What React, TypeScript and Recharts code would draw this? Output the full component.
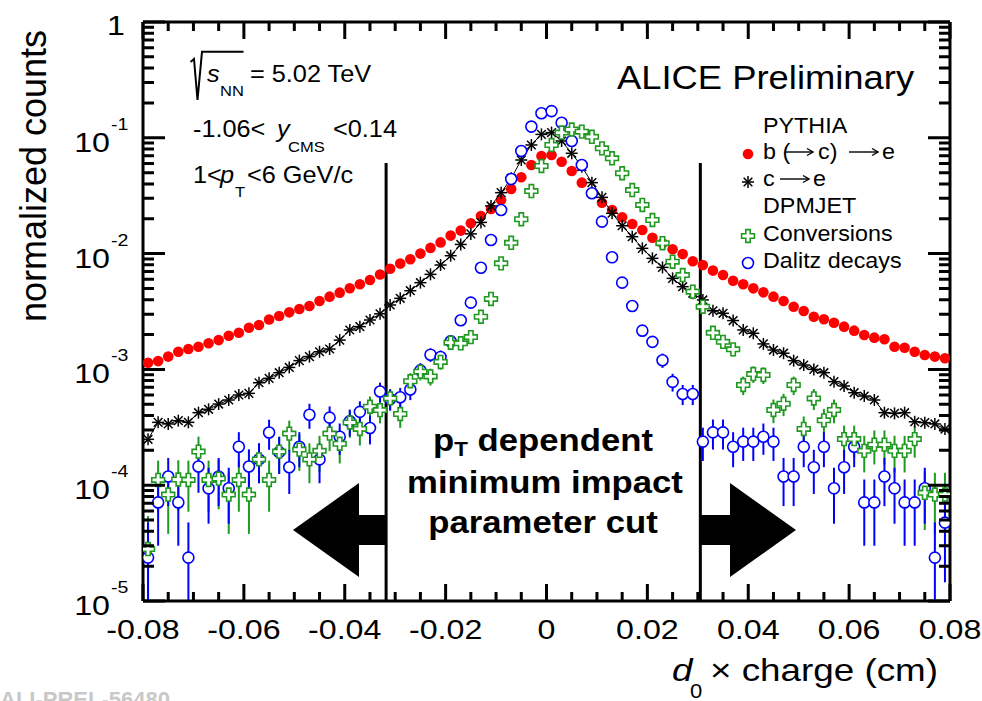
import React from 'react';
import { ComposedChart, Scatter, XAxis, YAxis, ErrorBar, ReferenceLine } from 'recharts';

const FONT = '"Liberation Sans", Arial, Helvetica, sans-serif';
const RED = '#ff0000';
const GREEN = '#1f991f';
const BLUE = '#0000ff';

// bin centres, d0 x charge (cm)
const binCenters = [
  -0.079, -0.077, -0.075, -0.073, -0.071, -0.069, -0.067, -0.065, -0.063, -0.061,
  -0.059, -0.057, -0.055, -0.053, -0.051, -0.049, -0.047, -0.045, -0.043, -0.041,
  -0.039, -0.037, -0.035, -0.033, -0.031, -0.029, -0.027, -0.025, -0.023, -0.021,
  -0.019, -0.017, -0.015, -0.013, -0.011, -0.009, -0.007, -0.005, -0.003, -0.001,
  0.001, 0.003, 0.005, 0.007, 0.009, 0.011, 0.013, 0.015, 0.017, 0.019,
  0.021, 0.023, 0.025, 0.027, 0.029, 0.031, 0.033, 0.035, 0.037, 0.039,
  0.041, 0.043, 0.045, 0.047, 0.049, 0.051, 0.053, 0.055, 0.057, 0.059,
  0.061, 0.063, 0.065, 0.067, 0.069, 0.071, 0.073, 0.075, 0.077, 0.079,
];

// PYTHIA b (-> c) -> e
const bToCToE = [
  1.14e-3, 1.18e-3, 1.29e-3, 1.42e-3, 1.5e-3, 1.57e-3, 1.68e-3, 1.79e-3, 1.95e-3, 2.07e-3,
  2.29e-3, 2.42e-3, 2.7e-3, 2.89e-3, 3.11e-3, 3.32e-3, 3.53e-3, 3.9e-3, 4.25e-3, 4.6e-3,
  5.02e-3, 5.43e-3, 5.92e-3, 6.6e-3, 7.4e-3, 8.2e-3, 8.95e-3, 1.0e-2, 1.12e-2, 1.25e-2,
  1.43e-2, 1.58e-2, 1.83e-2, 2.11e-2, 2.43e-2, 2.9e-2, 3.61e-2, 4.56e-2, 5.82e-2, 6.96e-2,
  7.1e-2, 6.22e-2, 5.17e-2, 4.1e-2, 3.32e-2, 2.75e-2, 2.38e-2, 2.06e-2, 1.8e-2, 1.6e-2,
  1.37e-2, 1.23e-2, 1.09e-2, 9.9e-3, 8.6e-3, 7.97e-3, 7.13e-3, 6.53e-3, 5.83e-3, 5.43e-3,
  5.01e-3, 4.63e-3, 4.25e-3, 3.9e-3, 3.48e-3, 3.19e-3, 2.85e-3, 2.71e-3, 2.53e-3, 2.34e-3,
  2.16e-3, 1.98e-3, 1.88e-3, 1.82e-3, 1.57e-3, 1.54e-3, 1.42e-3, 1.33e-3, 1.29e-3, 1.25e-3,
];

// PYTHIA c -> e
const cToE = [
  2.49e-4, 3.49e-4, 3.38e-4, 3.61e-4, 3.49e-4, 4.23e-4, 4.52e-4, 5.02e-4, 5.44e-4, 6.01e-4,
  6.21e-4, 7.67e-4, 8.37e-4, 9.37e-4, 1.04e-3, 1.19e-3, 1.29e-3, 1.42e-3, 1.5e-3, 1.79e-3,
  2.19e-3, 2.34e-3, 2.67e-3, 3.02e-3, 3.6e-3, 4.11e-3, 4.78e-3, 5.61e-3, 6.62e-3, 7.97e-3,
  9.59e-3, 1.2e-2, 1.48e-2, 1.86e-2, 2.58e-2, 3.36e-2, 4.47e-2, 6.43e-2, 8.67e-2, 1.07e-1,
  1.11e-1, 9.38e-2, 7.35e-2, 5.63e-2, 4.1e-2, 3.06e-2, 2.23e-2, 1.74e-2, 1.4e-2, 1.11e-2,
  9.1e-3, 7.6e-3, 6.11e-3, 5.18e-3, 4.54e-3, 3.98e-3, 3.21e-3, 3.05e-3, 2.64e-3, 2.19e-3,
  2.05e-3, 1.66e-3, 1.47e-3, 1.38e-3, 1.19e-3, 1.09e-3, 1.0e-3, 9.37e-4, 7.84e-4, 7.19e-4,
  6.29e-4, 5.89e-4, 5.44e-4, 4.23e-4, 4.17e-4, 4.23e-4, 3.53e-4, 3.47e-4, 3.38e-4, 3.05e-4,
];

// DPMJET conversions
const conversions = [
  2.81e-5, 1.11e-4, 8.3e-5, 1.12e-4, 1.11e-4, 1.95e-4, 1.11e-4, 1.14e-4, 8.3e-5, 1.11e-4,
  8.3e-5, 1.67e-4, 1.11e-4, 1.95e-4, 2.79e-4, 2.03e-4, 1.67e-4, 1.98e-4, 2.79e-4, 2.28e-4,
  3.48e-4, 3.06e-4, 4.76e-4, 4.45e-4, 5.62e-4, 4.12e-4, 7.9e-4, 9.55e-4, 8.7e-4, 1.16e-3,
  1.7e-3, 1.68e-3, 1.9e-3, 2.85e-3, 4.06e-3, 8.24e-3, 1.24e-2, 1.98e-2, 3.47e-2, 5.71e-2,
  8.67e-2, 1.11e-1, 1.18e-1, 1.13e-1, 1.02e-1, 8.11e-2, 6.65e-2, 4.94e-2, 3.54e-2, 2.63e-2,
  1.95e-2, 1.23e-2, 8.51e-3, 6.53e-3, 4.69e-3, 3.48e-3, 2.07e-3, 1.73e-3, 1.49e-3, 7.33e-4,
  9.12e-4, 8.95e-4, 4.46e-4, 5.05e-4, 7.33e-4, 3.06e-4, 5.61e-4, 3.63e-4, 4.46e-4, 2.5e-4,
  2.5e-4, 1.98e-4, 2.24e-4, 2.24e-4, 1.98e-4, 1.98e-4, 2.5e-4, 8.6e-5, 8.3e-5, 8.3e-5,
];
const conversionsErr = [
  2.6e-5, 5.2e-5, 4.5e-5, 5.2e-5, 5.2e-5, 6.8e-5, 5.2e-5, 5.2e-5, 4.5e-5, 5.2e-5,
  4.5e-5, 6.3e-5, 5.2e-5, 6.8e-5, 8.2e-5, 7.0e-5, 6.3e-5, 6.9e-5, 8.2e-5, 7.4e-5,
  9.1e-5, 8.6e-5, 1.07e-4, 1.03e-4, 1.16e-4, 9.9e-5, 1.38e-4, 1.51e-4, 1.45e-4, 1.67e-4,
  2.0e-4, 2.0e-4, 2.1e-4, 2.6e-4, 3.1e-4, 4.4e-4, 5.5e-4, 6.9e-4, 9.1e-4, 1.17e-3,
  1.44e-3, 1.63e-3, 1.68e-3, 1.65e-3, 1.56e-3, 1.4e-3, 1.26e-3, 1.09e-3, 9.2e-4, 7.9e-4,
  6.8e-4, 5.4e-4, 4.5e-4, 4.0e-4, 3.4e-4, 2.9e-4, 2.2e-4, 2.0e-4, 1.9e-4, 1.33e-4,
  1.48e-4, 1.47e-4, 1.03e-4, 1.1e-4, 1.33e-4, 8.6e-5, 1.16e-4, 9.3e-5, 1.03e-4, 7.7e-5,
  7.7e-5, 6.9e-5, 7.3e-5, 7.3e-5, 6.9e-5, 6.9e-5, 7.7e-5, 4.5e-5, 4.5e-5, 4.5e-5,
];

// DPMJET Dalitz decays
const dalitz = [
  2.37e-5, 7.1e-5, 1.19e-4, 7.1e-5, 2.37e-5, 1.45e-4, 9.4e-5, 1.19e-4, 9.4e-5, 2.15e-4,
  1.45e-4, 1.67e-4, 2.85e-4, 1.93e-4, 1.43e-4, 2.15e-4, 4.06e-4, 1.67e-4, 3.83e-4, 2.62e-4,
  3.57e-4, 4.3e-4, 3.12e-4, 6.45e-4, 5.55e-4, 5.75e-4, 6.7e-4, 9.8e-4, 1.34e-3, 1.28e-3,
  1.75e-3, 2.66e-3, 3.77e-3, 7.55e-3, 1.31e-2, 2.38e-2, 4.41e-2, 7.69e-2, 1.25e-1, 1.63e-1,
  1.7e-1, 1.35e-1, 9.38e-2, 5.82e-2, 3.32e-2, 1.89e-2, 9.29e-3, 5.61e-3, 3.53e-3, 2.16e-3,
  1.73e-3, 1.2e-3, 7.8e-4, 6.13e-4, 6.13e-4, 2.38e-4, 2.86e-4, 2.86e-4, 2.15e-4, 2.38e-4,
  2.38e-4, 2.62e-4, 2.38e-4, 1.19e-4, 1.19e-4, 2.15e-4, 1.43e-4, 2.15e-4, 9.4e-5, 1.43e-4,
  2.15e-4, 7.1e-5, 7.1e-5, 1.19e-4, 9.4e-5, 7.1e-5, 7.1e-5, 9.4e-5, 2.37e-5, 4.75e-5,
];
const dalitzErr = [
  2.4e-5, 4.1e-5, 5.3e-5, 4.1e-5, 2.4e-5, 5.9e-5, 4.75e-5, 5.3e-5, 4.75e-5, 7.2e-5,
  5.9e-5, 6.3e-5, 8.3e-5, 6.8e-5, 5.9e-5, 7.2e-5, 9.9e-5, 6.3e-5, 9.6e-5, 7.9e-5,
  9.3e-5, 1.0e-4, 8.7e-5, 1.24e-4, 1.15e-4, 1.17e-4, 1.27e-4, 1.53e-4, 1.79e-4, 1.75e-4,
  2.05e-4, 2.5e-4, 3.0e-4, 4.3e-4, 5.6e-4, 7.6e-4, 1.0e-3, 1.36e-3, 1.7e-3, 2.0e-3,
  2.0e-3, 1.8e-3, 1.5e-3, 1.2e-3, 8.9e-4, 6.7e-4, 4.7e-4, 3.7e-4, 2.9e-4, 2.3e-4,
  2.0e-4, 1.7e-4, 1.37e-4, 1.21e-4, 1.21e-4, 7.6e-5, 8.3e-5, 8.3e-5, 7.2e-5, 7.6e-5,
  7.6e-5, 7.9e-5, 7.6e-5, 5.3e-5, 5.3e-5, 7.2e-5, 5.9e-5, 7.2e-5, 4.75e-5, 5.9e-5,
  7.2e-5, 4.1e-5, 4.1e-5, 5.3e-5, 4.75e-5, 4.1e-5, 4.1e-5, 4.75e-5, 2.4e-5, 3.3e-5,
];

const xMajorTicks = [-0.08, -0.06, -0.04, -0.02, 0, 0.02, 0.04, 0.06, 0.08];
const xMinorTicks = [
  -0.075, -0.07, -0.065, -0.055, -0.05, -0.045, -0.035, -0.03, -0.025, -0.015, -0.01, -0.005,
  0.005, 0.01, 0.015, 0.025, 0.03, 0.035, 0.045, 0.05, 0.055, 0.065, 0.07, 0.075,
];
const yMajorTicks = [1e-5, 1e-4, 1e-3, 1e-2, 1e-1, 1];
const yMinorTicks = [
  2e-5, 3e-5, 4e-5, 5e-5, 6e-5, 7e-5, 8e-5, 9e-5,
  2e-4, 3e-4, 4e-4, 5e-4, 6e-4, 7e-4, 8e-4, 9e-4,
  2e-3, 3e-3, 4e-3, 5e-3, 6e-3, 7e-3, 8e-3, 9e-3,
  2e-2, 3e-2, 4e-2, 5e-2, 6e-2, 7e-2, 8e-2, 9e-2,
  0.2, 0.3, 0.4, 0.5, 0.6, 0.7, 0.8, 0.9,
];

// impact parameter cut lines
const cutPositions = [-0.0318, 0.0305];
const cutTop = 0.0606;

const X_MIN = -0.08;
const X_MAX = 0.08;
const Y_MIN = 1e-5;
const Y_MAX = 1;
const X_DOMAIN: [number, number] = [X_MIN, X_MAX];
const Y_DOMAIN: [number, number] = [Y_MIN, Y_MAX];

// plot frame in page pixels (chart margins below are derived from it)
const FRAME = { left: 143, right: 950, top: 22, bottom: 601 };

const rows = binCenters.map((x, i) => ({
  x,
  red: bToCToE[i],
  black: cToE[i],
  conv: conversions[i],
  convErr: [Math.min(conversionsErr[i], conversions[i] - Y_MIN), conversionsErr[i]],
  dal: dalitz[i],
  dalErr: [Math.min(dalitzErr[i], dalitz[i] - Y_MIN), dalitzErr[i]],
}));

const AXIS = { stroke: '#000', strokeWidth: 3 };
const TW = 3;

const BottomLabel = (p: any) => {
  const v = p.payload.value;
  const label = Math.abs(v) < 1e-12 ? '0' : v.toFixed(2);
  return (
    <text transform={`translate(${p.x},${p.y + 38}) scale(1.15,1)`} textAnchor="middle" fontSize={28} fontFamily={FONT} fill="#000">
      {label}
    </text>
  );
};

const LeftLabel = (p: any) => {
  const n = Math.round(Math.log10(p.payload.value));
  if (n === 0) {
    return (
      <text transform={`translate(${p.x - 18},${p.y + 13}) scale(1.15,1)`} textAnchor="end" fontSize={28} fontFamily={FONT} fill="#000">1</text>
    );
  }
  return (
    <g fill="#000" fontFamily={FONT}>
      <text transform={`translate(${p.x - 33},${p.y + 14}) scale(1.15,1)`} textAnchor="end" fontSize={28}>10</text>
      <text transform={`translate(${p.x - 32},${p.y - 8}) scale(1.15,1)`} fontSize={17}>{n}</text>
    </g>
  );
};

// markers
const Empty = () => <g />;
const RedDot = (p: any) => <circle cx={p.cx} cy={p.cy} r={5.3} fill={RED} />;
const Star = (p: any) => {
  const s = 6;
  const d = s * 0.72;
  return (
    <g stroke="#000" strokeWidth={1.5}>
      <line x1={p.cx - s} y1={p.cy} x2={p.cx + s} y2={p.cy} />
      <line x1={p.cx} y1={p.cy - s} x2={p.cx} y2={p.cy + s} />
      <line x1={p.cx - d} y1={p.cy - d} x2={p.cx + d} y2={p.cy + d} />
      <line x1={p.cx - d} y1={p.cy + d} x2={p.cx + d} y2={p.cy - d} />
    </g>
  );
};
const OpenCross = (p: any) => {
  const s = 6.4;
  const a = 2.2;
  const { cx, cy } = p;
  const pts = [
    [-a, -s], [a, -s], [a, -a], [s, -a], [s, a], [a, a],
    [a, s], [-a, s], [-a, a], [-s, a], [-s, -a], [-a, -a],
  ].map(([dx, dy]) => `${cx + dx},${cy + dy}`).join(' ');
  return <polygon points={pts} fill="#fff" stroke={GREEN} strokeWidth={1.6} />;
};
const OpenCircle = (p: any) => <circle cx={p.cx} cy={p.cy} r={5.5} fill="#fff" stroke={BLUE} strokeWidth={1.6} />;

const Txt = ({ x, y, size, sx = 1.1, children, italic, bold, anchor, fill = '#000' }: any) => (
  <text
    transform={`translate(${x},${y}) scale(${sx},1)`}
    fontSize={size}
    fontStyle={italic ? 'italic' : 'normal'}
    fontWeight={bold ? 'bold' : 'normal'}
    textAnchor={anchor || 'start'}
    fill={fill}
  >
    {children}
  </text>
);

// thin arrow used in the legend labels
const Arrow = ({ x1, x2, y }: any) => (
  <g stroke="#000" strokeWidth={1.4} fill="none">
    <line x1={x1} y1={y} x2={x2} y2={y} />
    <path d={`M${x2 - 6} ${y - 3.5} L${x2} ${y} L${x2 - 6} ${y + 3.5}`} />
  </g>
);

// inward ROOT-style frame ticks along the plot frame, as one path
const fx = (v: number) => FRAME.left + ((v - X_MIN) / (X_MAX - X_MIN)) * (FRAME.right - FRAME.left);
const fy = (v: number) =>
  FRAME.top + (Math.log10(Y_MAX / v) / Math.log10(Y_MAX / Y_MIN)) * (FRAME.bottom - FRAME.top);
const xTickList = [...xMajorTicks.map((t) => [t, 17]), ...xMinorTicks.map((t) => [t, 9])];
const yTickList = [...yMajorTicks.map((t) => [t, 22]), ...yMinorTicks.map((t) => [t, 11])];
const tickPath = [
  ...xTickList.map(([t, len]) => `M${fx(t)} ${FRAME.bottom}V${FRAME.bottom - len}M${fx(t)} ${FRAME.top}V${FRAME.top + len}`),
  ...yTickList.map(([t, len]) => `M${FRAME.left} ${fy(t)}H${FRAME.left + len}M${FRAME.right} ${fy(t)}H${FRAME.right - len}`),
].join('');

const Annotations = () => (
  <svg width={982} height={701} style={{ position: 'absolute', left: 0, top: 0, pointerEvents: 'none' }} fontFamily={FONT}>
    <path d={tickPath} stroke="#000" strokeWidth={TW} fill="none" />

    {/* axis titles */}
    <text transform="translate(46,176) rotate(-90)" textAnchor="middle" fontSize={36} fill="#000">normalized counts</text>
    <Txt x={672} y={681} size={32} sx={1.15} italic>d</Txt>
    <Txt x={690} y={698} size={20} sx={1.1}>0</Txt>
    <Txt x={710} y={681} size={32} sx={1.15}>× charge (cm)</Txt>

    {/* collision info */}
    <path d="M190.5 62 L194 59 L197.5 100 L202 51.7 L243.5 51.7" fill="none" stroke="#000" strokeWidth={2} />
    <Txt x={207} y={82} size={23} italic>s</Txt>
    <Txt x={220} y={96} size={15}>NN</Txt>
    <Txt x={250} y={82} size={23}>= 5.02 TeV</Txt>
    <Txt x={193} y={137} size={23}>-1.06&lt;</Txt>
    <Txt x={277} y={137} size={23} italic>y</Txt>
    <Txt x={288} y={152} size={15}>CMS</Txt>
    <Txt x={333} y={137} size={23}>&lt;0.14</Txt>
    <Txt x={193} y={183} size={23}>1&lt;</Txt>
    <Txt x={220} y={183} size={23} italic>p</Txt>
    <Txt x={235} y={197} size={15}>T</Txt>
    <Txt x={247} y={183} size={23}>&lt;6 GeV/c</Txt>

    <Txt x={617} y={89} size={34} sx={1.07}>ALICE Preliminary</Txt>

    {/* legend */}
    <Txt x={763} y={133} size={22} sx={1.06}>PYTHIA</Txt>
    <RedDot cx={748} cy={154} />
    <Txt x={763} y={159} size={22} sx={1.06}>b (</Txt>
    <Arrow x1={785} x2={813} y={152} />
    <Txt x={818} y={159} size={22} sx={1.06}>c)</Txt>
    <Arrow x1={849} x2={878} y={152} />
    <Txt x={882} y={159} size={22} sx={1.06}>e</Txt>
    <Star cx={748} cy={182} />
    <Txt x={763} y={186} size={22} sx={1.06}>c</Txt>
    <Arrow x1={780} x2={809} y={179} />
    <Txt x={813} y={186} size={22} sx={1.06}>e</Txt>
    <Txt x={763} y={213} size={22} sx={1.06}>DPMJET</Txt>
    <OpenCross cx={748} cy={236} />
    <Txt x={763} y={241} size={22} sx={1.06}>Conversions</Txt>
    <OpenCircle cx={748} cy={263} />
    <Txt x={763} y={268} size={22} sx={1.06}>Dalitz decays</Txt>

    {/* cut annotation */}
    <text transform="translate(543,451) scale(1.12,1)" textAnchor="middle" fontSize={31} fontWeight="bold" fill="#000">
      <tspan>p</tspan>
      <tspan fontSize={20} dy={5}>T</tspan>
      <tspan dy={-5}> dependent</tspan>
    </text>
    <Txt x={545} y={493} size={31} sx={1.12} bold anchor="middle">minimum impact</Txt>
    <Txt x={543} y={533} size={31} sx={1.12} bold anchor="middle">parameter cut</Txt>
    <polygon points="293,530 359,483 359,515 386,515 386,545 359,545 359,577" fill="#000" />
    <polygon points="700,515 730,515 730,483 796,530 730,577 730,545 700,545" fill="#000" />

    <Txt x={0} y={707} size={22} sx={1} bold fill="#c8c8c8">ALI-PREL-56480</Txt>
  </svg>
);

export default function App() {
  return (
    <div style={{ position: 'absolute', left: 0, top: 0, width: 982, height: 701, background: '#fff', fontFamily: FONT }}>
      <ComposedChart
        width={982}
        height={701}
        margin={{ top: FRAME.top - 1, right: 982 - FRAME.right - 1, bottom: 701 - FRAME.bottom - 1, left: FRAME.left - 1 }}
      >
        <XAxis
          xAxisId="b" dataKey="x" type="number" domain={X_DOMAIN} allowDataOverflow
          ticks={xMajorTicks} interval={0} height={1} tickSize={0} tickMargin={0}
          tickLine={false} axisLine={AXIS} tick={BottomLabel}
        />
        <XAxis
          xAxisId="t" orientation="top" dataKey="x" type="number" domain={X_DOMAIN} allowDataOverflow
          ticks={xMajorTicks} height={1} tickLine={false} axisLine={AXIS} tick={false}
        />
        <YAxis
          yAxisId="l" type="number" scale="log" domain={Y_DOMAIN} allowDataOverflow
          ticks={yMajorTicks} interval={0} width={1} tickSize={0} tickMargin={0}
          tickLine={false} axisLine={AXIS} tick={LeftLabel}
        />
        <YAxis
          yAxisId="r" orientation="right" type="number" scale="log" domain={Y_DOMAIN} allowDataOverflow
          ticks={yMajorTicks} width={1} tickLine={false} axisLine={AXIS} tick={false}
        />

        {/* keeps the top / right frame axes tied to the data */}
        <Scatter xAxisId="t" yAxisId="r" data={rows} dataKey="red" shape={Empty} isAnimationActive={false} />

        {cutPositions.map((c) => (
          <ReferenceLine
            key={c} xAxisId="b" yAxisId="l" ifOverflow="visible"
            segment={[{ x: c, y: Y_MIN }, { x: c, y: cutTop }]}
            stroke="#000" strokeWidth={3}
          />
        ))}

        {/* error bars first, markers on top */}
        <Scatter xAxisId="b" yAxisId="l" data={rows} dataKey="conv" shape={Empty} isAnimationActive={false}>
          <ErrorBar dataKey="convErr" direction="y" width={0} stroke={GREEN} strokeWidth={2} isAnimationActive={false} />
        </Scatter>
        <Scatter xAxisId="b" yAxisId="l" data={rows} dataKey="dal" shape={Empty} isAnimationActive={false}>
          <ErrorBar dataKey="dalErr" direction="y" width={0} stroke={BLUE} strokeWidth={2} isAnimationActive={false} />
        </Scatter>

        <Scatter xAxisId="b" yAxisId="l" data={rows} dataKey="red" shape={RedDot} isAnimationActive={false} />
        <Scatter
          xAxisId="b" yAxisId="l" data={rows} dataKey="black" shape={Star}
          line={{ stroke: '#000', strokeWidth: 1 }} lineType="joint" isAnimationActive={false}
        />
        <Scatter xAxisId="b" yAxisId="l" data={rows} dataKey="dal" shape={OpenCircle} isAnimationActive={false} />
        <Scatter xAxisId="b" yAxisId="l" data={rows} dataKey="conv" shape={OpenCross} isAnimationActive={false} />
      </ComposedChart>
      <Annotations />
    </div>
  );
}
